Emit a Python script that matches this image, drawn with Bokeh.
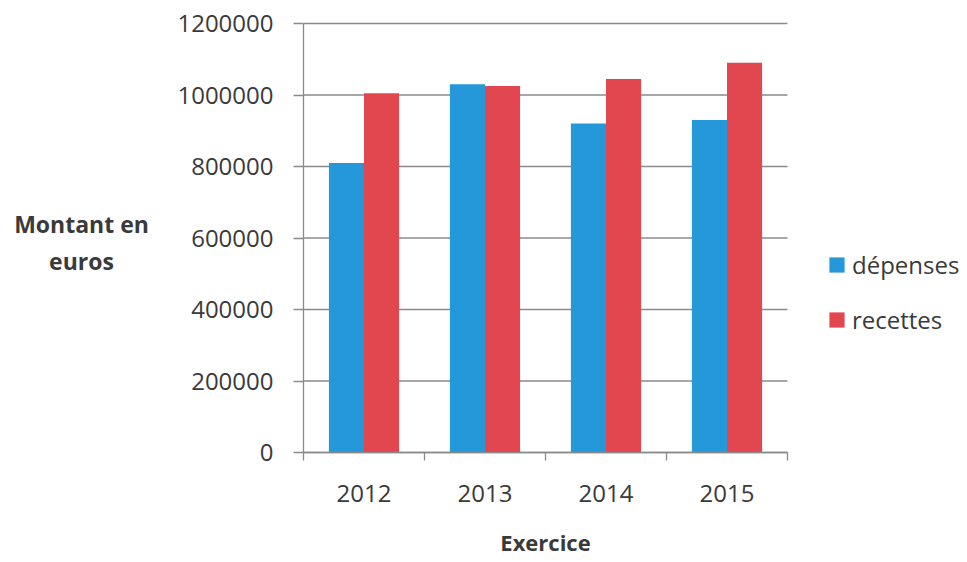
from bokeh.plotting import figure
from bokeh.models import (ColumnDataSource, FixedTicker, Legend, LegendItem, Label,
                          BasicTickFormatter, Range1d)
from bokeh.transform import dodge
from bokeh.embed import file_html
from bokeh.resources import INLINE

# ---- data ----
years = ["2012", "2013", "2014", "2015"]
depenses = [810000, 1030000, 920000, 930000]
recettes = [1005000, 1025000, 1045000, 1090000]
y_ticks = [0, 200000, 400000, 600000, 800000, 1000000, 1200000]
series_names = ["dépenses", "recettes"]
y_title = "Montant en\neuros"
x_title = "Exercice"

BLUE = "#2498d8"
RED = "#e2464f"
GRID = "#8a8a8a"
TEXT = "#3a3a3a"
FONT = "Open Sans"

# ---- layout (pixels) ----
W, H = 965, 561
AX_LEFT, AX_RIGHT, AX_TOP, AX_BOTTOM = 303, 787, 23, 452
n = len(years)
px_per_cat = (AX_RIGHT - AX_LEFT) / n
x_start = -AX_LEFT / px_per_cat
x_end = (W - AX_LEFT) / px_per_cat
val_per_px = y_ticks[-1] / (AX_BOTTOM - AX_TOP)
y_start = -(H - AX_BOTTOM) * val_per_px
y_end = y_ticks[-1] + AX_TOP * val_per_px

xc = [i + 0.5 for i in range(n)]
src = ColumnDataSource(dict(x=xc, year=years, dep=depenses, rec=recettes))
grid_src = ColumnDataSource(dict(y=y_ticks, x0=[0] * len(y_ticks), x1=[n] * len(y_ticks)))

p = figure(width=W, height=H, output_backend="svg", toolbar_location=None,
           x_range=Range1d(x_start, x_end), y_range=Range1d(y_start, y_end),
           min_border_left=0, min_border_right=0, min_border_top=0,
           min_border_bottom=0)
p.outline_line_color = None
p.background_fill_color = "white"
p.xgrid.visible = False
p.ygrid.visible = False

# horizontal gridlines, limited to the category span
p.segment(x0="x0", x1="x1", y0="y", y1="y", source=grid_src,
          line_color=GRID, line_width=1.3, level="underlay")

bw = 0.29
r1 = p.vbar(x=dodge("x", -bw / 2, range=p.x_range), top="dep", width=bw, source=src,
            fill_color=BLUE, line_color=None)
r2 = p.vbar(x=dodge("x", bw / 2, range=p.x_range), top="rec", width=bw, source=src,
            fill_color=RED, line_color=None)

# x axis: labels at centres, small ticks at category boundaries
xa = p.xaxis[0]
xa.fixed_location = 0
xa.bounds = (0, n)
xa.ticker = FixedTicker(ticks=xc, minor_ticks=list(range(n + 1)))
xa.major_label_overrides = {x: y for x, y in zip(xc, years)}
xa.major_tick_line_color = None
xa.major_tick_out = 0
xa.minor_tick_out = 8
xa.minor_tick_in = 0
xa.minor_tick_line_color = GRID
xa.minor_tick_line_width = 1.3
xa.axis_line_color = GRID
xa.axis_line_width = 1.3
xa.major_label_text_font = FONT
xa.major_label_text_font_size = "24px"
xa.major_label_text_color = TEXT
xa.major_label_standoff = 24
xa.axis_label = x_title
xa.axis_label_text_font = FONT
xa.axis_label_text_font_style = "bold"
xa.axis_label_text_font_size = "22px"
xa.axis_label_text_color = TEXT
xa.axis_label_standoff = 22

ya = p.yaxis[0]
ya.fixed_location = 0
ya.bounds = (0, y_ticks[-1])
ya.ticker = FixedTicker(ticks=y_ticks)
ya.formatter = BasicTickFormatter(use_scientific=False)
ya.major_tick_out = 10
ya.major_tick_in = 0
ya.major_tick_line_color = GRID
ya.major_tick_line_width = 1.3
ya.minor_tick_line_color = None
ya.axis_line_color = GRID
ya.axis_line_width = 1.3
ya.major_label_text_font = FONT
ya.major_label_text_font_size = "24px"
ya.major_label_text_color = TEXT
ya.major_label_standoff = 20

# y axis title, horizontal, two centred lines at far left
ylab = Label(x=81, y=H - 242, x_units="screen", y_units="screen", text=y_title,
             text_align="center", text_baseline="middle", text_font=FONT,
             text_font_style="bold", text_font_size="23px", text_color=TEXT,
             text_line_height=1.17)
p.add_layout(ylab)

legend = Legend(items=[LegendItem(label=series_names[0], renderers=[r1]),
                       LegendItem(label=series_names[1], renderers=[r2])],
                location=(827, H - 336), orientation="vertical")
legend.glyph_width = 19
legend.glyph_height = 19
legend.label_standoff = 6
legend.spacing = 22
legend.padding = 0
legend.margin = 0
legend.border_line_color = None
legend.background_fill_alpha = 0
legend.label_text_font = FONT
legend.label_text_font_size = "24px"
legend.label_text_color = TEXT
p.add_layout(legend)

open("out.html", "w").write(file_html(p, INLINE))
